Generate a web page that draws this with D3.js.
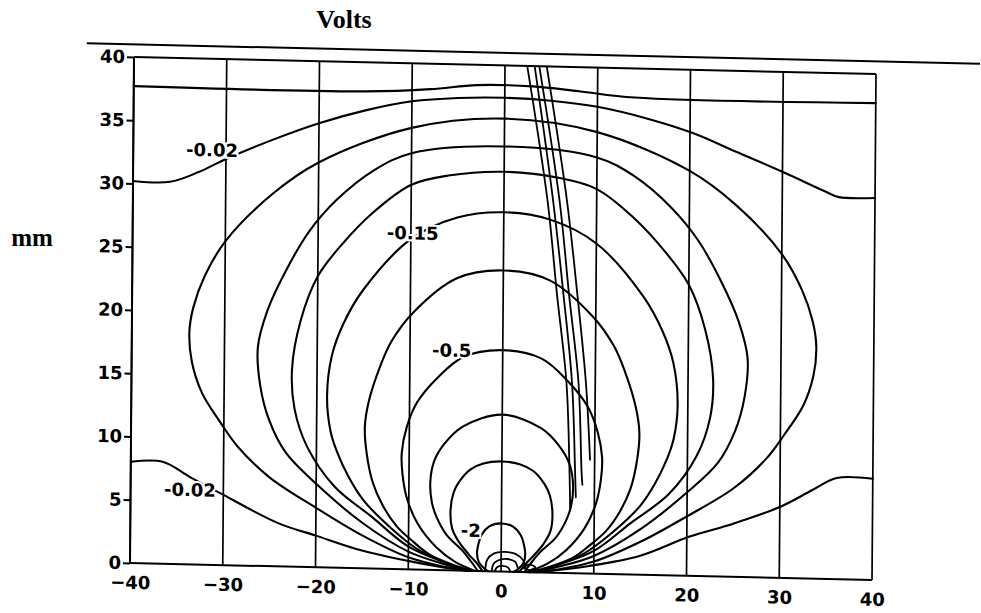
<!DOCTYPE html>
<html>
<head>
<meta charset="utf-8">
<script src="https://cdn.jsdelivr.net/npm/d3@7/dist/d3.min.js"></script>
<style>
  html, body { margin: 0; padding: 0; background: #fff; }
  svg { display: block; }
</style>
</head>
<body>
<svg id="chart" width="981" height="613"></svg>
<script>
// ---------------- DATA (in mm) ----------------
const xTicks = [-40, -30, -20, -10, 0, 10, 20, 30, 40];
const yTicks = [0, 5, 10, 15, 20, 25, 30, 35, 40];
const gridX = [-40, -30, -20, -10, 0, 10, 20, 30, 40];

// -0.02 V contour, upper branch (enters/leaves at the side edges)
const c002Top = [[-40,30.2],[-36,30.2],[-33,31.0],[-30,32.1],[-25,33.7],[-20,35.1],[-15,36.2],[-10,37.0],[-5,37.35],[0,37.45],
                 [5,37.3],[10,36.9],[15.7,36.0],[20.3,35.0],[25,33.6],[30,32.1],[34.7,30.6],[36.1,30.2],[40,30.2]];
// -0.02 V contour, lower branch (left and right)
const c002BotL = [[-40,8.0],[-36.5,8.05],[-33.6,6.9],[-30.4,5.7],[-24,3.4],[-20,2.5],[-15,1.4],[-9.5,0.6],[-5,0.12],[-3,0]];
const c002BotR = [[3,0],[5,0.12],[9.5,0.6],[15,1.5],[20.3,3.1],[25,4.2],[30,5.6],[33.5,7.0],[36.1,8.0],[40,8.0]];
// near-horizontal boundary line inside the frame
const boundaryLine = [[-40,37.7],[-15,37.7],[-8,38.0],[-3,38.4],[3,38.4],[8,38.1],[14,37.7],[40,37.7]];
// surface line above the frame
const surfaceLine = [[-45.1,41.0],[51.2,41.0]];

// closed contours (left half, top -> bottom); the field is symmetric about x = 0
const ovalO1 = [[0,35.8],[-10,34.9],[-20,32.0],[-25,29.4],[-30,25.6],[-32.2,22.8],[-33.4,20.3],[-33.8,18.3],[-33.5,16.0],[-32.4,13.6],[-30.4,11.3],[-28.5,9.4],[-25,7.0],[-20,4.7],[-15,2.6],[-10,0.95],[-6,0.25],[-3.8,0]];
const ovalO2 = [[0,33.6],[-10,32.9],[-14,31.5],[-18,29.1],[-21,26.5],[-23.5,23.3],[-25.4,20.2],[-26.4,17.3],[-26.1,14.2],[-25.1,11.5],[-23.3,9.0],[-20,6.6],[-15,3.6],[-10,1.4],[-6,0.45],[-3.5,0]];
const ovalO3 = [[0,31.6],[-6,31.2],[-10,30.4],[-14,28.2],[-17.5,25.5],[-20,23.0],[-21.8,19.5],[-22.7,15.6],[-22.4,12.5],[-21,9.5],[-18,6.4],[-14,4.1],[-10,1.8],[-6,0.6],[-3.5,0]];
const ovalO4 = [[0,28.4],[-5,27.9],[-10,26.1],[-15.1,22.0],[-17.2,19.3],[-18.4,16.8],[-18.9,13.5],[-18.5,10.8],[-17.8,9.2],[-16.5,7.2],[-14.9,5.4],[-12,3.3],[-9,1.6],[-6,0.6],[-3.2,0]];
const ovalO5 = [[0,23.8],[-5,23.1],[-9.7,20.3],[-12,18.0],[-13.2,16.0],[-14.4,13.2],[-14.8,11.2],[-14.6,9.2],[-13.9,6.8],[-12.8,5.0],[-11.3,3.4],[-9.5,2.2],[-7.7,1.2],[-5,0.4],[-3,0]];
const ovalO6 = [[0,17.5],[-4.2,16.9],[-7,15.2],[-9.2,13.2],[-10.3,11.2],[-10.8,9.2],[-10.7,7.5],[-10.2,5.6],[-9,3.6],[-7,1.8],[-5,0.7],[-2.8,0]];
const ovalO7 = [[0,12.4],[-4.2,11.4],[-6.2,10.0],[-7.3,8.6],[-7.7,6.9],[-7.5,5.3],[-7.0,4.2],[-5.9,2.8],[-4.2,1.6],[-3.1,0.6],[-2.5,0]];
const ovalO8 = [[0,8.7],[-2,8.5],[-3.4,8.0],[-4.6,7.0],[-5.2,6.1],[-5.5,4.6],[-5.3,3.3],[-4.6,2.3],[-3.5,1.3],[-2.6,0.6],[-2,0]];
const ovalO9 = [[0,3.8],[-1.3,3.55],[-2.1,2.9],[-2.4,2.3],[-2.6,1.4],[-2.4,0.7],[-1.8,0.2],[-1.4,0]];
const ovals = [ovalO1, ovalO2, ovalO3, ovalO4, ovalO5, ovalO6, ovalO7, ovalO8, ovalO9];

// small loops at the electrode (full curves)
const innerA1 = [[-1.7,0],[-1.5,0.9],[-0.8,1.4],[0.4,1.55],[1.6,1.4],[2.4,0.9],[2.7,0]];
const innerA2 = [[-1.0,0],[-0.8,0.6],[0,0.95],[0.7,1.0],[1.5,0.8],[1.9,0]];
const innerA3 = [[-0.7,0],[-0.4,0.35],[0.2,0.45],[0.8,0.3],[1.0,0]];
const innerLoop = [[2.4,0.35],[3.0,0.6],[3.7,0.4],[3.0,0.15],[2.4,0.35]];
const innerCurves = [innerA1, innerA2, innerA3, innerLoop];

// inclined probe lines
const probeL1 = [[2.4,40],[4.7,29.4],[5.8,22],[6.9,15],[7.3,8],[7.4,5]];
const probeL2 = [[3.2,40],[5.3,29.4],[6.5,22],[7.5,15],[7.9,8],[8.0,6]];
const probeL3 = [[3.7,40],[6.0,29.4],[7.1,22],[8.2,15],[8.6,8],[8.7,7]];
const probeL4 = [[4.5,40],[6.8,29.4],[8.0,22],[9.0,15],[9.5,9]];
const probes = [probeL1, probeL2, probeL3, probeL4];

// contour labels
const labelTexts = ["-0.02", "-0.02", "-0.15", "-0.5", "-2"];
const labelX = [-31.5, -33.6, -9.8, -5.5, -3.3];
const labelY = [32.8, 5.9, 26.6, 17.4, 3.2];

// ---------------- DRAWING ----------------
const W = 742, H = 506;
const svg = d3.select("#chart");
const x = d3.scaleLinear().domain([-40, 40]).range([0, W]);
const y = d3.scaleLinear().domain([0, 40]).range([H, 0]);

// the scanned figure is slightly skewed; reproduce with an affine transform
const g = svg.append("g").attr("transform", "matrix(1,0.0229,-0.0079,1,134,57)");

const line = d3.line().x(d => x(d[0])).y(d => y(d[1])).curve(d3.curveCatmullRom.alpha(0.5));
const straight = d3.line().x(d => x(d[0])).y(d => y(d[1]));

// grid / frame
g.selectAll(".grid").data(gridX).enter().append("line")
  .attr("x1", d => x(d)).attr("x2", d => x(d))
  .attr("y1", y(0)).attr("y2", y(40))
  .attr("stroke", "#000").attr("stroke-width", 1.7);
g.append("line").attr("x1", x(-40)).attr("x2", x(40)).attr("y1", y(0)).attr("y2", y(0))
  .attr("stroke", "#000").attr("stroke-width", 2);
g.append("line").attr("x1", x(-40)).attr("x2", x(40)).attr("y1", y(40)).attr("y2", y(40))
  .attr("stroke", "#000").attr("stroke-width", 2);

// surface line above
g.append("path").attr("d", straight(surfaceLine)).attr("fill", "none")
  .attr("stroke", "#000").attr("stroke-width", 2);

const stroke = sel => sel.attr("fill", "none").attr("stroke", "#000")
  .attr("stroke-width", 2.1).attr("stroke-linejoin", "round").attr("stroke-linecap", "round");

g.append("path").attr("d", line(boundaryLine)).call(stroke);
g.append("path").attr("d", line(c002Top)).call(stroke);
g.append("path").attr("d", line(c002BotL)).call(stroke);
g.append("path").attr("d", line(c002BotR)).call(stroke);

ovals.forEach(half => {
  const full = half.slice().reverse().concat(half.slice(1).map(p => [-p[0], p[1]]));
  g.append("path").attr("d", line(full)).call(stroke);
});
innerCurves.forEach(c => g.append("path").attr("d", line(c)).call(stroke).attr("stroke-width", 1.8));
probes.forEach(p => g.append("path").attr("d", line(p)).call(stroke).attr("stroke-width", 1.8));

// axes
const font = "'DejaVu Sans', sans-serif";
const ya = g.append("g").call(d3.axisLeft(y).tickValues(yTicks).tickSize(7).tickPadding(2).tickFormat(d3.format("d")));
ya.select(".domain").remove();
ya.selectAll("line").attr("stroke", "#000").attr("stroke-width", 2);
ya.selectAll("text").attr("font-family", font).attr("font-size", 18).attr("font-weight", "bold").attr("fill", "#000");
g.append("line").attr("x1", x(-40)).attr("x2", x(-40)).attr("y1", y(0)).attr("y2", y(40))
  .attr("stroke", "#000").attr("stroke-width", 2);

const xa = g.append("g").attr("transform", `translate(0,${H})`)
  .call(d3.axisBottom(x).tickValues(xTicks).tickSize(0).tickPadding(13).tickFormat(d3.format("d")));
xa.select(".domain").remove();
xa.selectAll("text").attr("font-family", font).attr("font-size", 18).attr("font-weight", "bold").attr("fill", "#000");

// contour labels
g.selectAll(".clab").data(labelTexts).enter().append("text")
  .attr("x", (d, i) => x(labelX[i])).attr("y", (d, i) => y(labelY[i]))
  .attr("dy", "0.36em").attr("text-anchor", "middle")
  .attr("font-family", font).attr("font-size", 18).attr("font-weight", "bold")
  .attr("fill", "#000").attr("stroke", "#fff").attr("stroke-width", 4)
  .attr("paint-order", "stroke").text(d => d);

// titles
svg.append("text").attr("x", 344).attr("y", 28).attr("text-anchor", "middle")
  .attr("font-family", "'Liberation Serif', 'Times New Roman', serif").attr("font-size", 26)
  .attr("font-weight", "bold").text("Volts");
svg.append("text").attr("x", 32).attr("y", 246).attr("text-anchor", "middle")
  .attr("font-family", "'Liberation Serif', 'Times New Roman', serif").attr("font-size", 25)
  .attr("font-weight", "bold").text("mm");
</script>
</body>
</html>
